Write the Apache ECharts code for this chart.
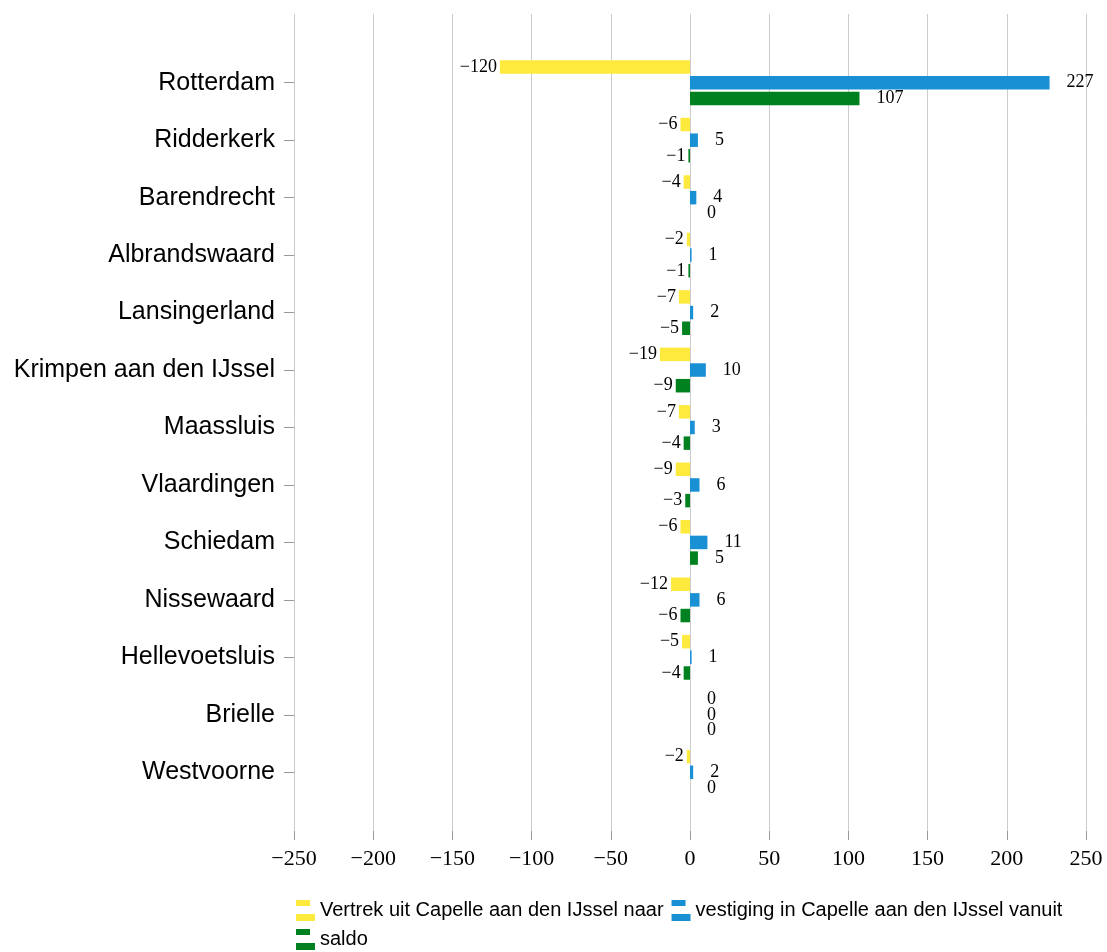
<!DOCTYPE html>
<html>
<head>
<meta charset="utf-8">
<script src="https://cdn.jsdelivr.net/npm/echarts@6/dist/echarts.min.js"></script>
<style>
  html, body { margin: 0; padding: 0; background: #fff; }
  #chart { width: 1107px; height: 952px; }
</style>
</head>
<body>
<div id="chart"></div>
<script>
const categories = ['Rotterdam', 'Ridderkerk', 'Barendrecht', 'Albrandswaard', 'Lansingerland',
  'Krimpen aan den IJssel', 'Maassluis', 'Vlaardingen', 'Schiedam', 'Nissewaard',
  'Hellevoetsluis', 'Brielle', 'Westvoorne']
const vertrek = [-120, -6, -4, -2, -7, -19, -7, -9, -6, -12, -5, 0, -2]
const vestiging = [227, 5, 4, 1, 2, 10, 3, 6, 11, 6, 1, 0, 2]
const saldo = [107, -1, 0, -1, -5, -9, -4, -3, 5, -6, -4, 0, 0]
const seriesNames = ['Vertrek uit Capelle aan den IJssel naar', 'vestiging in Capelle aan den IJssel vanuit', 'saldo']
const colors = ['#fdea3c', '#1a90d4', '#008120']

const serif = 'Liberation Serif'
const sans = 'Liberation Sans'
const minus = v => String(v).replace('-', '\u2212')

function items (vals) {
  return vals.map(v => ({
    value: v,
    label: { position: v < 0 ? 'left' : 'right', distance: v < 0 ? 3 : 17 }
  }))
}

function barSeries (name, vals, color) {
  return {
    name: name,
    type: 'bar',
    xAxisIndex: 0,
    yAxisIndex: 0,
    barWidth: 13.5,
    barGap: '16%',
    itemStyle: { color: color },
    label: {
      show: true,
      fontFamily: serif,
      fontSize: 18,
      color: '#000',
      formatter: p => minus(p.value)
    },
    data: items(vals)
  }
}

const chart = echarts.init(document.getElementById('chart'))
chart.setOption({
  animation: false,
  textStyle: { fontFamily: sans },
  grid: [
    { left: 294, right: 21, top: 54, height: 747 },
    { left: 294, right: 21, top: 14, bottom: 121 }
  ],
  legend: {
    left: 296,
    top: 900,
    padding: 0,
    width: 800,
    itemWidth: 19,
    itemHeight: 21,
    itemGap: 8,
    icon: 'path://M0,0H14V6H0Z M0,14H19V21H0Z',
    textStyle: { fontFamily: sans, fontSize: 20, color: '#000' },
    data: seriesNames
  },
  xAxis: [
    { gridIndex: 0, type: 'value', min: -250, max: 250, interval: 50, show: false },
    {
      gridIndex: 1,
      type: 'value',
      min: -250,
      max: 250,
      interval: 50,
      axisLine: { show: false },
      axisTick: { show: true, length: 9, lineStyle: { color: '#999' } },
      splitLine: { show: true, lineStyle: { color: '#cccccc' } },
      axisLabel: { fontFamily: serif, fontSize: 22, color: '#000', margin: 17, formatter: v => minus(v) }
    }
  ],
  yAxis: [
    {
      gridIndex: 0,
      type: 'category',
      inverse: true,
      data: categories,
      axisLine: { show: false, onZero: false },
      axisTick: { show: true, length: 10, alignWithLabel: true, lineStyle: { color: '#999' } },
      axisLabel: { fontFamily: sans, fontSize: 25, color: '#000', margin: 19 }
    },
    { gridIndex: 1, type: 'value', show: false }
  ],
  series: [
    barSeries(seriesNames[0], vertrek, colors[0]),
    barSeries(seriesNames[1], vestiging, colors[1]),
    barSeries(seriesNames[2], saldo, colors[2])
  ]
})
</script>
</body>
</html>
